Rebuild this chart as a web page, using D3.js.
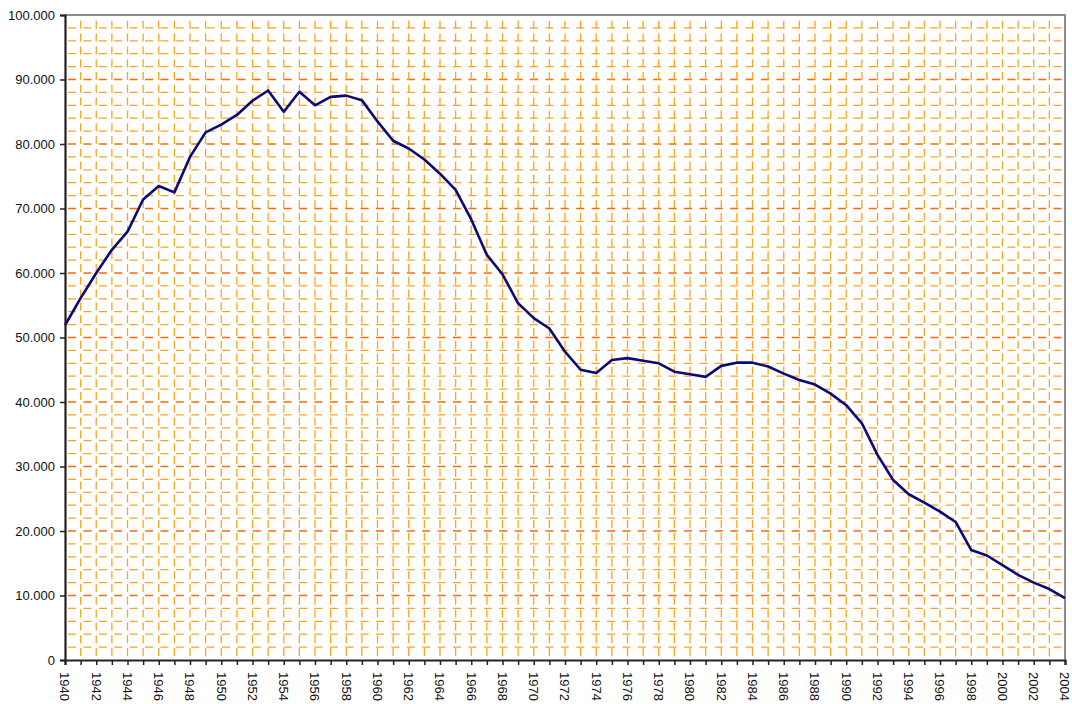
<!DOCTYPE html>
<html>
<head>
<meta charset="utf-8">
<script src="https://cdn.jsdelivr.net/npm/d3@7"></script>
<style>
  body { margin: 0; background: #fff; }
  text { font-family: "Liberation Sans", Arial, sans-serif; fill: #111; }
</style>
</head>
<body>
<div id="chart"></div>
<script>
'use strict';

// years on the x axis
const years = d3.range(1940, 2005);

// values
const values = [
  51900, 56100, 60000, 63600, 66400, 71400, 73500, 72500, 78000, 81800,
  83000, 84500, 86700, 88300, 85000, 88100, 86000, 87300, 87500, 86800,
  83500, 80500, 79300, 77600, 75400, 72900, 68300, 62800, 59800, 55300,
  53000, 51400, 47800, 45000, 44500, 46500, 46800, 46400, 46000, 44700,
  44300, 43900, 45600, 46100, 46100, 45500, 44400, 43400, 42700, 41300,
  39500, 36700, 31800, 27900, 25700, 24400, 23000, 21400, 17050, 16200,
  14700, 13200, 12000, 11000, 9600
];

const yTicks = d3.range(0, 100001, 10000);
const yGrid = d3.range(2000, 100001, 2000);
const xLabels = d3.range(1940, 2005, 2);

const data = years.map((y, i) => ({ year: y, value: values[i] }));

const W = 1072, H = 704;
let margin = {top: 15, right: 7, bottom: 44, left: 65},
  width = W - margin.left - margin.right,
  height = H - margin.top - margin.bottom;

const locale = d3.formatLocale({decimal: ",", thousands: ".", grouping: [3], currency: ["", ""]});
const fmt = locale.format(",.0f");

let svg = d3.select("#chart")
  .append("svg")
    .attr("width", W)
    .attr("height", H)
  .append("g")
    .attr("transform", "translate(" + margin.left + "," + margin.top + ")");

let x = d3.scaleLinear()
  .domain([1940, 2004])
  .range([0, width]);

let y = d3.scaleLinear()
  .domain([0, 100000])
  .range([height, 0]);

// horizontal grid (every 2.000, darker every 10.000)
svg.append("g").selectAll("line")
  .data(yGrid)
  .enter()
  .append("line")
  .attr("x1", 0)
  .attr("x2", width)
  .attr("y1", d => y(d))
  .attr("y2", d => y(d))
  .style("stroke", d => d % 10000 === 0 ? "#ff6a00" : "#ffa31a")
  .style("stroke-width", 1.3)
  .style("stroke-dasharray", "8,7.4")
  .attr("stroke-dashoffset", -3);

// vertical grid (every year)
svg.append("g").selectAll("line")
  .data(years.slice(1, -1))
  .enter()
  .append("line")
  .attr("x1", d => x(d))
  .attr("x2", d => x(d))
  .attr("y1", height)
  .attr("y2", 0)
  .style("stroke", "#ffa31a")
  .style("stroke-width", 1.3)
  .style("stroke-dasharray", "8,4.8")
  .attr("stroke-dashoffset", -4);

// top and right border
svg.append("path")
  .attr("d", "M0,0H" + width + "V" + height)
  .style("fill", "none")
  .style("stroke", "#8c8c8c")
  .style("stroke-width", 2);

// line
let line = d3.line()
  .x(d => x(d.year))
  .y(d => y(d.value));

svg.append("path")
  .datum(data)
  .attr("d", line)
  .style("fill", "none")
  .style("stroke", "#0a0a78")
  .style("stroke-width", 2.6)
  .style("stroke-linejoin", "round");

// y axis
let yAxis = svg.append("g")
  .call(d3.axisLeft(y).tickValues(yTicks).tickFormat(fmt).tickSize(5).tickPadding(5));
yAxis.select(".domain").style("stroke", "#222").style("stroke-width", 2.2);
yAxis.selectAll(".tick line").style("stroke", "#222").style("stroke-width", 1.5);
yAxis.selectAll("text").style("font-size", "13px")
  .style("font-family", "'Liberation Sans', Arial, sans-serif").style("fill", "#111");

// x axis
let xAxis = svg.append("g")
  .attr("transform", "translate(0," + height + ")")
  .call(d3.axisBottom(x).tickValues(years).tickSize(5).tickFormat(""));
xAxis.select(".domain").style("stroke", "#222").style("stroke-width", 2.2);
xAxis.selectAll(".tick line").style("stroke", "#222").style("stroke-width", 1.5);

xAxis.selectAll(".lbl")
  .data(xLabels)
  .enter()
  .append("text")
  .attr("class", "lbl")
  .attr("transform", d => "translate(" + x(d) + ",12) rotate(90)")
  .attr("dy", "0.35em")
  .attr("text-anchor", "start")
  .style("font-size", "13px")
  .style("fill", "#111")
  .text(d => d);
</script>
</body>
</html>
